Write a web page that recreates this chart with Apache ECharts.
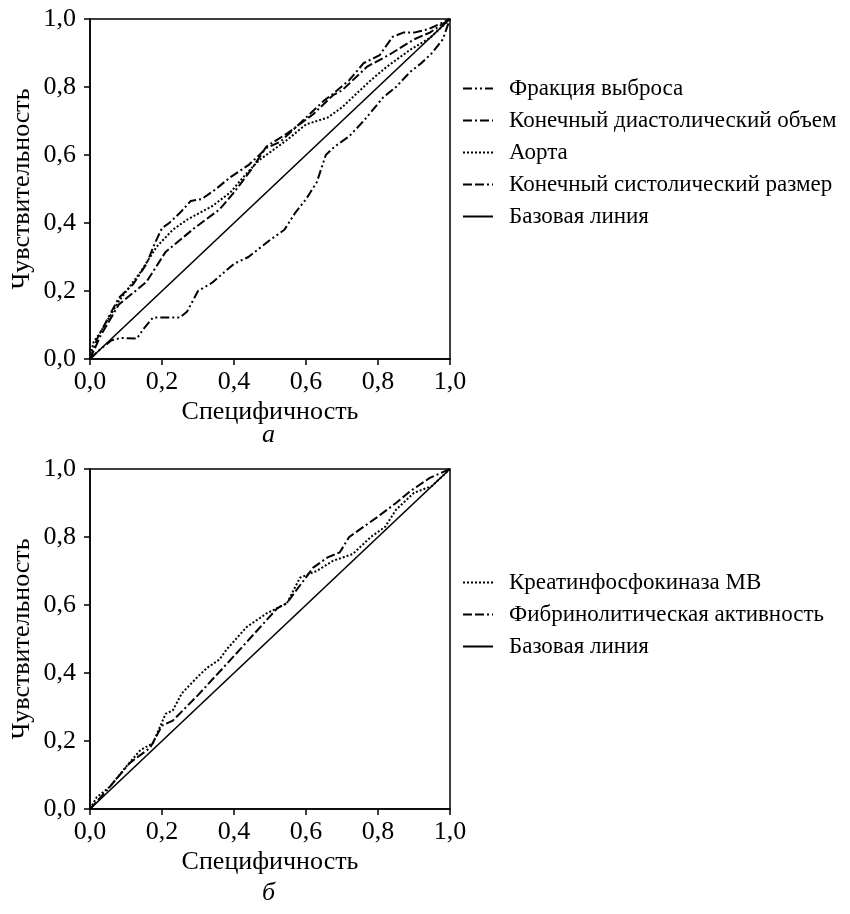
<!DOCTYPE html>
<html>
<head>
<meta charset="utf-8">
<script src="https://cdn.jsdelivr.net/npm/echarts@6/dist/echarts.min.js"></script>
<style>html,body{margin:0;padding:0;background:#fff}#c{width:850px;height:914px}</style>
</head>
<body>
<div id="c"></div>
<script>
// ---- data (x = Специфичность, y = Чувствительность) ----
const tickLabels = ['0,0', '0,2', '0,4', '0,6', '0,8', '1,0'];

const namesA = ['Фракция выброса', 'Конечный диастолический объем', 'Аорта', 'Конечный систолический размер', 'Базовая линия'];
const namesB = ['Креатинфосфокиназа МВ', 'Фибринолитическая активность', 'Базовая линия'];

const ejectionFraction = [[0,0],[0.03,0.03],[0.06,0.055],[0.085,0.062],[0.13,0.06],[0.15,0.09],[0.175,0.122],[0.25,0.122],[0.27,0.14],[0.3,0.2],[0.34,0.225],[0.4,0.28],[0.44,0.3],[0.5,0.35],[0.54,0.38],[0.57,0.43],[0.6,0.47],[0.63,0.52],[0.655,0.6],[0.68,0.625],[0.72,0.655],[0.76,0.7],[0.815,0.77],[0.85,0.8],[0.89,0.845],[0.92,0.87],[0.95,0.9],[0.98,0.94],[1,1]];
const diastolicVolume = [[0,0],[0.02,0.06],[0.05,0.12],[0.08,0.18],[0.12,0.22],[0.157,0.28],[0.18,0.34],[0.2,0.385],[0.22,0.4],[0.25,0.43],[0.28,0.465],[0.31,0.47],[0.35,0.5],[0.39,0.535],[0.44,0.57],[0.49,0.62],[0.53,0.64],[0.58,0.69],[0.62,0.73],[0.65,0.76],[0.675,0.78],[0.72,0.82],[0.76,0.87],[0.805,0.894],[0.84,0.947],[0.87,0.96],[0.9,0.96],[0.94,0.97],[1,1]];
const aorta = [[0,0],[0.01,0.05],[0.028,0.077],[0.08,0.17],[0.14,0.255],[0.185,0.33],[0.23,0.38],[0.27,0.41],[0.34,0.45],[0.39,0.49],[0.43,0.54],[0.47,0.585],[0.547,0.644],[0.6,0.69],[0.66,0.71],[0.7,0.74],[0.74,0.78],[0.78,0.82],[0.825,0.86],[0.89,0.91],[0.944,0.944],[1,1]];
const systolicSize = [[0,0],[0.03,0.07],[0.08,0.16],[0.157,0.227],[0.21,0.315],[0.25,0.35],[0.29,0.385],[0.36,0.44],[0.4,0.49],[0.45,0.56],[0.49,0.625],[0.55,0.665],[0.62,0.72],[0.675,0.776],[0.7,0.79],[0.77,0.86],[0.83,0.894],[0.9,0.94],[0.944,0.96],[1,1]];
const baseline = [[0,0],[1,1]];

const creatineKinase = [[0,0],[0.019,0.035],[0.055,0.065],[0.1,0.124],[0.14,0.173],[0.175,0.194],[0.21,0.28],[0.23,0.29],[0.255,0.34],[0.3,0.39],[0.325,0.415],[0.36,0.44],[0.38,0.47],[0.435,0.535],[0.49,0.575],[0.547,0.605],[0.583,0.68],[0.63,0.7],[0.675,0.73],[0.73,0.75],[0.78,0.8],[0.82,0.83],[0.85,0.88],[0.9,0.93],[0.95,0.95],[1,1]];
const fibrinolytic = [[0,0],[0.047,0.055],[0.11,0.135],[0.167,0.18],[0.2,0.245],[0.23,0.26],[0.3,0.335],[0.4,0.45],[0.52,0.59],[0.547,0.606],[0.62,0.71],[0.66,0.74],[0.694,0.755],[0.72,0.8],[0.76,0.83],[0.8,0.86],[0.85,0.9],[0.89,0.935],[0.944,0.974],[1,1]];

// ---- styles ----
const FONT = '"Liberation Serif", "Times New Roman", serif';
const BLACK = '#000';
const dashDotDot = [9,3,2,3,2,3];
const dashDot = [9,3,2,3];
const dotted = [2,2];
const dashDashDot = [9,3,9,3,2,3];

function axisX(gi) {
  return {
    type: 'value', gridIndex: gi, min: 0, max: 1, interval: 0.2,
    name: 'Специфичность', nameLocation: 'middle', nameGap: 40,
    nameTextStyle: { fontFamily: FONT, fontSize: 26, color: BLACK },
    axisLine: { show: true, lineStyle: { color: BLACK, width: 1.5 } },
    axisTick: { show: true, inside: false, length: 6, lineStyle: { color: BLACK, width: 1.5 } },
    axisLabel: { margin: 10, fontFamily: FONT, fontSize: 26, color: BLACK,
      formatter: (v) => tickLabels[Math.round(v / 0.2)] },
    splitLine: { show: false }
  };
}
function axisY(gi) {
  return {
    type: 'value', gridIndex: gi, min: 0, max: 1, interval: 0.2,
    name: 'Чувствительность', nameLocation: 'middle', nameGap: 55,
    nameTextStyle: { fontFamily: FONT, fontSize: 26, color: BLACK },
    axisLine: { show: true, lineStyle: { color: BLACK, width: 1.5 } },
    axisTick: { show: true, inside: false, length: 6, lineStyle: { color: BLACK, width: 1.5 } },
    axisLabel: { margin: 14, fontFamily: FONT, fontSize: 26, color: BLACK,
      formatter: (v) => tickLabels[Math.round(v / 0.2)] },
    splitLine: { show: false }
  };
}
function line(name, data, dash, gi, w) {
  return {
    type: 'line', name: name, data: data, xAxisIndex: gi, yAxisIndex: gi,
    symbol: 'none', smooth: false, animation: false,
    lineStyle: { color: BLACK, width: w || 2, type: dash },
    itemStyle: { color: BLACK }
  };
}
function legend(names, top) {
  return {
    orient: 'vertical', left: 462, top: top, padding: 0,
    itemWidth: 30, itemHeight: 12, itemGap: 9,
    data: names,
    itemStyle: { color: 'transparent', borderColor: 'transparent', borderWidth: 0, opacity: 0 },
    lineStyle: { width: 2 },
    textStyle: { fontFamily: FONT, fontSize: 23, color: BLACK, lineHeight: 23, padding: [0,0,0,11] }
  };
}

const chart = echarts.init(document.getElementById('c'), null, { renderer: 'canvas' });
chart.setOption({
  backgroundColor: '#fff',
  animation: false,
  grid: [
    { left: 90, top: 19, width: 360, height: 340, show: true, borderColor: BLACK, borderWidth: 1.5, backgroundColor: 'transparent' },
    { left: 90, top: 469, width: 360, height: 340, show: true, borderColor: BLACK, borderWidth: 1.5, backgroundColor: 'transparent' }
  ],
  xAxis: [axisX(0), axisX(1)],
  yAxis: [axisY(0), axisY(1)],
  legend: [legend(namesA, 77), legend(namesB, 571)],
  series: [
    line(namesA[0], ejectionFraction, dashDotDot, 0),
    line(namesA[1], diastolicVolume, dashDot, 0),
    line(namesA[2], aorta, dotted, 0),
    line(namesA[3], systolicSize, dashDashDot, 0),
    line(namesA[4], baseline, 'solid', 0, 1.6),
    line(namesB[0], creatineKinase, dotted, 1),
    line(namesB[1], fibrinolytic, dashDashDot, 1),
    line(namesB[2], baseline, 'solid', 1, 1.6)
  ],
  graphic: [
    { type: 'text', left: 262, top: 422, style: { text: 'а', font: 'italic 26px ' + FONT, fill: BLACK } },
    { type: 'text', left: 262, top: 880, style: { text: 'б', font: 'italic 26px ' + FONT, fill: BLACK } }
  ]
});
</script>
</body>
</html>
